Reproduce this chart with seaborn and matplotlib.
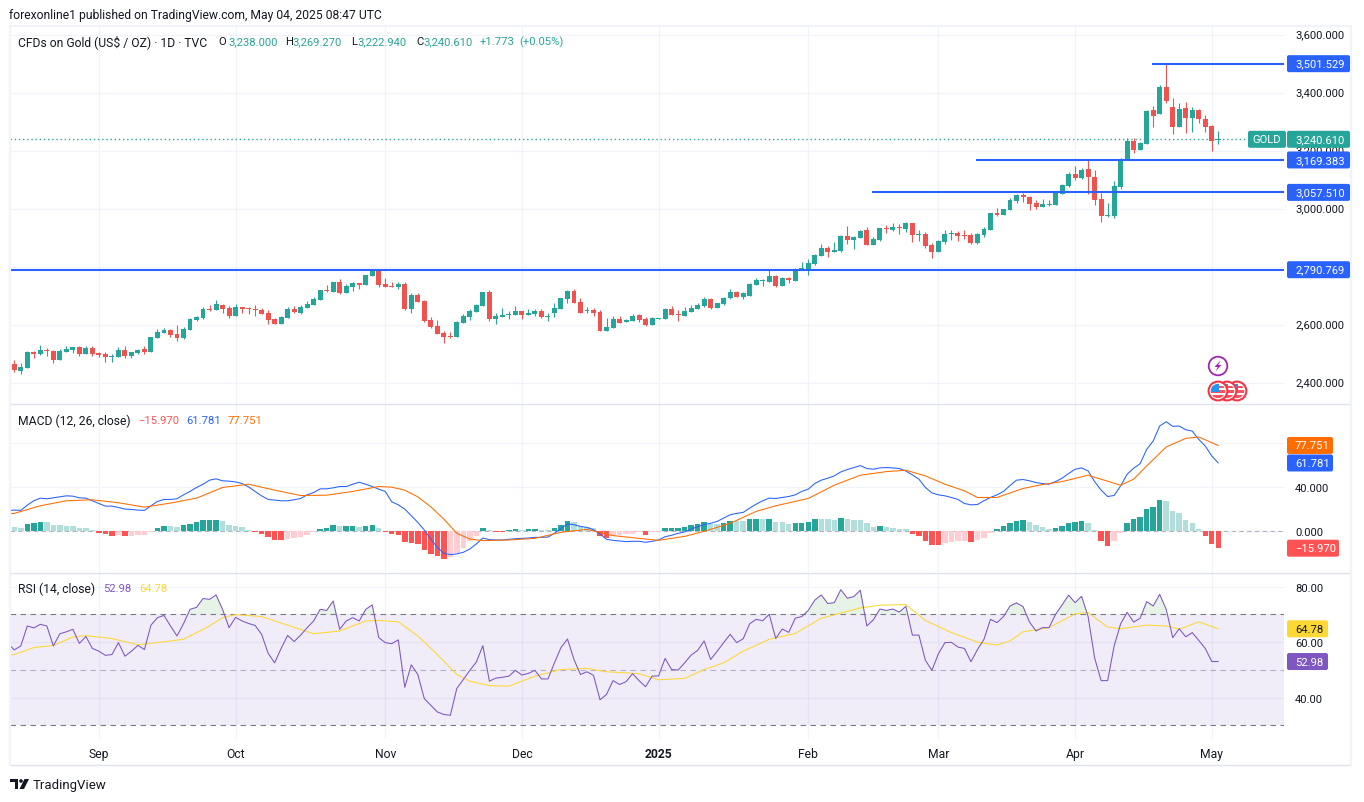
import numpy as np
import pandas as pd
import matplotlib
matplotlib.use("Agg")
import matplotlib.pyplot as plt
from matplotlib.patches import FancyBboxPatch, Circle, Rectangle, Polygon
from matplotlib.transforms import ScaledTranslation
import seaborn as sns

# ---------- data ----------
open_ = [2466,2442,2452,2507,2500,2515,2510,2479,2507,2514,2524,2500,2521,2504,2500,2490,2490,2514,2493,2504,
2517,2507,2555,2573,2583,2569,2555,2583,2617,2624,2655,2652,2669,2659,2631,2662,2660,2655,2652,2641,
2621,2604,2624,2655,2641,2659,2669,2686,2720,2714,2748,2710,2731,2745,2738,2769,2790,2741,2735,2731,
2741,2655,2703,2683,2617,2597,2573,2561,2559,2607,2628,2645,2666,2714,2621,2628,2635,2635,2648,2635,
2638,2648,2629,2642,2655,2690,2717,2679,2650,2652,2645,2580,2590,2621,2610,2614,2635,2621,2600,2622,
2621,2655,2637,2631,2645,2655,2666,2690,2659,2673,2693,2714,2697,2700,2738,2752,2748,2769,2735,2762,
2752,2792,2790,2810,2838,2866,2852,2855,2907,2893,2900,2928,2876,2893,2935,2928,2938,2931,2952,2911,
2914,2876,2852,2886,2914,2917,2911,2911,2883,2911,2928,2986,2980,2997,3028,3047,3042,3021,3007,3014,
3014,3052,3080,3121,3107,3138,3111,3035,2976,2976,3076,3172,3235,3204,3224,3341,3328,3421,3352,3283,
3348,3314,3341,3310,3286,3238]
high = [2479,2469,2510,2510,2531,2522,2514,2517,2528,2524,2528,2528,2528,2507,2507,2500,2524,2528,2507,2517,
2528,2559,2586,2590,2586,2600,2593,2624,2631,2662,2669,2686,2672,2666,2672,2662,2662,2669,2659,2652,
2624,2631,2662,2666,2669,2683,2697,2721,2738,2748,2759,2741,2748,2745,2772,2793,2793,2762,2748,2748,
2748,2710,2710,2686,2628,2617,2580,2576,2614,2638,2655,2673,2714,2721,2642,2659,2648,2666,2648,2655,
2655,2655,2642,2676,2693,2721,2724,2693,2662,2659,2652,2624,2631,2631,2621,2638,2638,2628,2628,2624,
2659,2666,2652,2662,2669,2676,2697,2693,2676,2697,2724,2717,2714,2745,2762,2759,2790,2773,2766,2766,
2797,2817,2828,2845,2879,2872,2886,2910,2941,2907,2928,2938,2904,2935,2945,2952,2948,2955,2952,2928,
2921,2883,2893,2928,2928,2924,2928,2917,2917,2938,2986,3004,3000,3038,3052,3055,3045,3031,3035,3031,
3059,3086,3128,3148,3142,3169,3135,3055,3021,3097,3176,3245,3245,3231,3341,3355,3428,3501.5,3383,3366,
3369,3352,3345,3324,3290,3269.3]
low = [2438,2431,2452,2486,2497,2493,2469,2479,2507,2504,2493,2500,2493,2490,2473,2473,2490,2486,2486,2500,
2500,2507,2555,2573,2559,2545,2552,2583,2614,2621,2648,2652,2641,2624,2631,2641,2638,2631,2638,2604,
2604,2604,2624,2641,2638,2659,2669,2686,2714,2714,2707,2710,2717,2724,2738,2769,2731,2731,2731,2724,
2652,2641,2679,2610,2590,2569,2538,2555,2559,2607,2617,2645,2666,2614,2604,2628,2621,2635,2621,2635,
2631,2624,2614,2628,2655,2676,2676,2642,2642,2631,2580,2580,2590,2607,2610,2614,2610,2597,2600,2622,
2621,2635,2614,2631,2645,2655,2662,2655,2659,2669,2690,2697,2690,2700,2738,2735,2748,2731,2735,2745,
2752,2790,2773,2807,2838,2835,2852,2852,2879,2862,2900,2876,2876,2890,2917,2924,2914,2921,2886,2890,
2866,2831,2852,2880,2893,2890,2897,2880,2880,2904,2928,2976,2980,2997,3021,3024,2997,3000,3007,3011,
3014,3052,3076,3100,3104,3052,3014,2955,2973,2969,3069,3172,3193,3204,3224,3283,3328,3366,3259,3283,
3262,3266,3297,3266,3200,3222.9]
close = [2445,2455,2507,2500,2514,2512,2479,2510,2517,2524,2500,2521,2500,2497,2490,2493,2514,2493,2507,2514,
2507,2559,2576,2583,2566,2555,2586,2621,2628,2655,2652,2672,2655,2631,2662,2655,2656,2653,2638,2617,
2604,2628,2655,2645,2662,2672,2690,2721,2717,2748,2710,2735,2745,2738,2772,2786,2738,2731,2731,2741,
2655,2703,2679,2614,2593,2569,2559,2558,2610,2631,2648,2669,2714,2621,2631,2635,2638,2648,2635,2642,
2648,2628,2632,2659,2693,2717,2676,2642,2653,2642,2580,2593,2621,2607,2617,2631,2617,2600,2624,2624,
2655,2635,2635,2648,2659,2669,2690,2659,2676,2693,2714,2697,2710,2741,2755,2755,2769,2735,2762,2755,
2793,2797,2814,2841,2866,2852,2859,2907,2893,2904,2924,2876,2897,2935,2931,2938,2935,2952,2911,2914,
2873,2852,2890,2914,2917,2907,2907,2883,2914,2931,2986,2980,3000,3031,3049,3043,3017,3007,3017,3017,
3055,3083,3121,3107,3135,3111,3031,2976,2980,3080,3172,3235,3204,3228,3338,3321,3421,3372,3283,3345,
3314,3341,3310,3283,3235,3240.61]

macd_prior = 18.2   # bar just before the visible range, left edge of the pane
macd = [18.8,18.5,23.3,27.3,29.7,29.1,30.0,30.9,31.8,31.5,30.0,29.7,27.3,24.8,22.4,22.4,21.2,19.7,19.4,18.8,
18.5,22.7,26.7,28.5,28.5,29.1,32.7,35.8,39.4,42.4,46.1,47.3,45.5,45.2,44.5,43.0,40.0,35.8,31.8,28.5,
27.9,27.3,27.3,28.2,29.4,32.7,34.8,38.2,38.2,39.1,40.3,40.3,42.4,44.2,42.4,40.3,37.9,35.8,26.4,23.6,
19.7,13.6,7.6,0.6,-7.6,-15.2,-20.6,-21.8,-21.2,-19.7,-16.7,-12.1,-6.7,-8.2,-8.5,-8.5,-7.9,-7.3,-7.0,-6.7,
-6.1,-6.1,-5.8,-2.4,2.1,6.1,5.5,3.9,3.0,0.9,-3.0,-7.9,-8.8,-9.4,-10.0,-9.7,-9.7,-10.6,-9.7,-8.5,
-5.5,-4.2,-2.4,-1.2,1.5,3.6,5.5,6.7,8.5,11.5,14.5,15.8,16.7,20.6,24.2,27.3,29.7,29.4,30.3,31.2,
32.7,35.8,37.9,43.0,46.1,47.9,50.0,53.6,55.8,57.6,59.4,56.7,56.1,57.3,57.6,57.3,56.7,54.5,50.9,47.0,
39.4,34.5,32.7,31.8,30.3,28.5,24.8,23.6,23.9,27.3,30.3,32.7,35.8,41.2,46.1,46.7,45.5,43.9,43.0,42.4,
44.8,47.9,52.1,56.1,57.3,54.5,44.8,37.0,31.2,32.1,40.9,51.5,57.0,61.2,74.2,81.8,95.5,99.4,95.2,95.5,
92.1,90.9,83.3,77.3,68.2,61.781]

signal_idx = [-1,0,4,8,12,16,20,24,28,32,36,40,44,48,52,56,58,60,62,64,66,68,70,72,76,80,84,88,92,96,99,103,106,110,114,117,
122,126,130,134,137,140,143,146,148,151,155,158,161,165,167,170,172,174,177,180,182,185]
signal = [15.2,15.8,22.7,27.3,28.2,25.5,21.5,25.2,29.7,39.4,42.4,37.0,32.1,32.4,35.8,40.3,39.7,37.0,30.9,21.8,10.6,-2.4,-7.6,-9.1,-8.5,-7.0,-1.5,1.2,-4.5,-7.0,-8.8,-5.2,-0.6,6.7,17.6,22.7,
29.4,41.5,50.6,53.9,55.2,50.0,42.4,36.4,30.3,30.3,38.5,42.1,44.8,50.6,47.0,41.5,47.0,59.1,76.4,84.2,85.5,77.751]

hist = [3.3,2.4,6,7.3,7.9,7.8,5.2,4.8,4.2,3.9,2.1,2.0,.6,
-2.1,-3.3,-4.5,-3.6,-4.8,-4.5,-3.9,-3.8,-1.2,
2.4,4.2,4.1,3.3,5.2,6,7.6,9.6,9.7,9.8,8.5,4.8,4.2,3.3,.6,
-1.2,-3,-5.5,-8.1,-8.3,-7.3,-6.7,-5.8,-3.6,-1.2,
1.5,2.7,5.2,4.2,4.3,4.4,3.3,4.2,5.2,2.4,
-1.2,-3,-3.9,-10.3,-11.2,-12.1,-17.3,-21.2,-23,-25.8,-24.2,-20.3,-15.8,-9.1,-4.8,
2.4,.6,-1.2,-1.3,
.4,1.5,.6,1.5,1.6,.6,.5,2.4,5.2,8.8,7.9,4.2,3.3,2.4,
-4.8,-6.7,-4.8,-3.6,-3.1,-3,-1.5,-3.9,-1.2,-1.1,
2.4,2.5,2.6,3.3,5.2,6,7.9,6,5.9,7,8.8,8.7,8.6,10.6,10.7,10.5,11,7.9,7.8,6,7,7.1,7.9,10.8,10.6,10.5,9.7,11.5,10.6,10,9.7,6.7,3.3,4.2,3.3,2.4,1.8,1.5,
-3,-4.8,-9.4,-13,-13.1,-11.2,-10.3,-9.4,-9.3,-10.3,-8.5,-6.7,-2.1,
1.5,4.2,7,8.8,9.7,7.9,5.2,3.3,1.5,2.4,4.2,7,7.9,8.8,7,.2,
-9.4,-13.9,-9.4,-2.1,
7,10.6,12.4,19.7,21.5,27.9,27,17.9,16,9.7,7,1.5,
-4.8,-12.1,-15.97]

rsi_prior = 59.5   # bar just before the visible range, left edge of the pane
rsi = [57.2,58.6,65.8,65.1,66.4,65.8,58.6,63.0,63.7,64.6,59.5,62.0,57.7,56.7,55.2,55.5,59.8,54.9,56.7,58.8,
57.3,66.1,68.8,69.6,65.8,62.2,66.6,71.8,72.5,75.7,75.4,77.0,71.8,65.2,68.9,67.6,66.7,66.0,62.8,56.0,
52.5,57.7,62.4,60.2,62.5,65.2,67.6,71.8,71.4,74.8,64.6,67.6,68.8,67.6,71.8,73.4,61.6,59.8,59.4,60.8,
43.7,51.8,48.3,39.6,37.2,34.8,33.9,33.6,43.3,46.5,49.8,52.8,58.7,45.9,47.0,47.3,47.7,49.8,48.1,48.7,
49.8,46.7,46.7,52.5,58.0,61.1,53.7,48.3,49.3,48.0,39.2,41.1,46.1,44.7,45.7,48.6,46.1,43.9,47.7,47.8,
54.1,50.1,49.9,52.5,55.3,57.0,60.4,53.7,56.7,59.8,62.8,59.8,61.2,66.6,68.2,67.7,70.0,61.3,64.7,63.5,
68.6,69.2,71.4,75.1,77.0,73.9,74.2,78.9,75.8,76.4,78.7,65.8,68.0,71.9,71.4,71.9,70.8,72.9,62.5,62.5,
53.4,49.8,55.8,59.8,59.9,58.2,57.7,52.9,57.3,61.0,68.2,67.0,69.2,73.0,74.1,72.8,67.2,64.0,65.2,65.2,
70.0,73.4,76.9,74.2,76.5,69.2,54.3,46.1,46.1,58.6,66.6,70.7,67.2,68.6,74.6,73.0,77.2,71.8,61.6,64.8,
61.9,63.4,60.6,57.7,53.0,52.98]

rsi_ma_idx = [-1,0,3,6,9,11,15,19,24,26,30,32,34,38,42,46,50,54,56,59,62,65,68,70,73,76,80,84,88,91,96,99,103,106,109,112,116,
120,124,130,133,137,140,144,148,151,153,155,159,163,165,168,170,174,177,179,182,185]
rsi_ma = [55.3,55.5,58.0,58.8,61.8,62.3,61.3,59.0,60.4,61.0,65.8,68.8,69.9,69.2,66.1,63.0,64.0,67.6,67.8,67.3,62.2,55.5,48.3,45.9,44.3,44.1,47.7,50.1,50.5,49.3,48.6,46.4,46.9,50.1,52.5,56.7,61.0,
63.1,68.6,72.3,73.3,73.5,67.8,63.4,60.0,58.9,60.4,63.7,65.2,70.2,70.6,65.4,64.8,66.1,65.8,64.6,67.3,64.78]

month_idx = [13,34,57,78,99,122,142,163,184]
month_labels = ["Sep","Oct","Nov","Dec","2025","Feb","Mar","Apr","May"]
price_ticks = [2400,2600,2800,3000,3200,3400,3600]
macd_ticks = [0,40,80]
rsi_ticks = [40,60,80]
levels = [3501.529,3169.383,3057.510,2790.769]
level_start = [174.8,147.8,131.8,-1]

# ---------- styling ----------
W, H = 1364, 803
sns.set_theme(style="white")
FONT = ["Roboto", "DejaVu Sans"]
plt.rcParams["font.family"] = FONT
plt.rcParams["axes.unicode_minus"] = False
UP, DOWN = "#26A69A", "#EF5350"
GRID = "#F0F3FA"
INK = "#131722"
BLUE, ORANGE, PURPLE, YELLOW = "#2962FF", "#FF6D00", "#7E57C2", "#FDD835"
FS = 8.75   # words
NS = 8.1    # numbers
LW = 0.76

fig = plt.figure(figsize=(W/100, H/100), dpi=100, facecolor="white")
def make_ax(top, bottom):
    return fig.add_axes([10/W, 1-bottom/H, (1284-10)/W, (bottom-top)/H])
ax_p = make_ax(27, 405)
ax_m = make_ax(405, 573)
ax_r = make_ax(574, 740)
XLIM = (-0.66, 195.1)

for ax in (ax_p, ax_m, ax_r):
    ax.set_xlim(*XLIM)
    ax.set_xticks(month_idx)
    ax.grid(True, color=GRID, lw=0.9)
    ax.set_axisbelow(True)
    ax.yaxis.tick_right()
    ax.tick_params(axis="both", length=0, labelsize=NS, labelcolor=INK)
    ax.tick_params(axis="y", pad=8)
    for s in ax.spines.values():
        s.set_visible(False)

# ---------- price pane ----------
df = pd.DataFrame({"i": np.arange(len(close)), "o": open_, "h": high, "l": low, "c": close})
cols = [UP if c >= o else DOWN for o, c in zip(df.o, df.c)]
ax_p.set_ylim(2327.5, 3631.5)
ax_p.vlines(df.i, df.l, df.h, colors=cols, lw=0.8, zorder=3)
body = (df.c - df.o).abs().clip(lower=3)
ax_p.bar(df.i, body, bottom=df[["o", "c"]].min(axis=1), width=0.76, color=cols, lw=0, zorder=4)
ax_p.axhline(close[-1], color=UP, lw=1.0, ls=(0, (1, 2.0)), zorder=2, xmax=(1248-10)/(1284-10))
for val, st in zip(levels, level_start):
    ax_p.hlines(val, st, XLIM[1], color=BLUE, lw=1.5, zorder=5)
ax_p.set_yticks(price_ticks)
ax_p.set_yticklabels([f"{v:,.3f}" for v in price_ticks])
ax_p.tick_params(axis="x", labelbottom=False)
for lab in ax_p.get_yticklabels():
    lab.set_transform(lab.get_transform() + ScaledTranslation(0, 1.5/72*0.72, fig.dpi_scale_trans))

# ---------- MACD pane ----------
ax_m.set_ylim(-37.7, 115.6)
prev = [hist[0] + 1] + hist[:-1]
hcols = []
for h, p in zip(hist, prev):
    if h >= 0:
        hcols.append("#26A69A" if h >= p else "#B2DFDB")
    else:
        hcols.append("#FF5252" if h < p else "#FFCDD2")
ax_m.bar(np.arange(len(hist)), hist, width=0.84, color=hcols, lw=0, zorder=3)
ax_m.axhline(0, color="#B2B5BE", lw=0.8, ls=(0, (4, 3)), zorder=2)
sns.lineplot(x=np.arange(-1, len(macd)), y=[macd_prior] + macd, ax=ax_m, color=BLUE, lw=LW, errorbar=None, zorder=4)
sns.lineplot(x=signal_idx, y=signal, ax=ax_m, color=ORANGE, lw=LW, errorbar=None, zorder=5)
ax_m.set_yticks(macd_ticks)
ax_m.set_yticklabels([f"{v:.3f}" for v in macd_ticks])
ax_m.tick_params(axis="x", labelbottom=False)

# ---------- RSI pane ----------
ax_r.set_ylim(25.05, 84.9)
ax_r.axhspan(30, 70, color=PURPLE, alpha=0.11, lw=0, zorder=1)
r = np.array(rsi)
xr = np.arange(len(r))
ax_r.fill_between(xr, 70, r, where=r > 70, interpolate=True, color="#C8E6C9", alpha=0.45, lw=0, zorder=2)
for lvl, c in ((70, "#787B86"), (30, "#787B86"), (50, "#B4B0C4")):
    ax_r.axhline(lvl, color=c, lw=0.8, ls=(0, (5, 4)), zorder=2)
sns.lineplot(x=np.arange(-1, len(r)), y=[rsi_prior] + rsi, ax=ax_r, color=PURPLE, lw=LW, errorbar=None, zorder=4)
sns.lineplot(x=rsi_ma_idx, y=rsi_ma, ax=ax_r, color=YELLOW, lw=LW, errorbar=None, zorder=3)
ax_r.set_yticks(rsi_ticks)
ax_r.set_yticklabels([f"{v:.2f}" for v in rsi_ticks])
ax_r.set_xticklabels(month_labels, fontsize=FS)
ax_r.tick_params(axis="x", pad=6)
for lab in ax_r.get_xticklabels():
    if lab.get_text() == "2025":
        lab.set_fontweight("bold")
for ax in (ax_p, ax_m, ax_r):
    ax.set_xlabel(""); ax.set_ylabel("")
    ax.set_xlim(*XLIM)

# ---------- overlay in pixel space: frame, legends, price tags, logo ----------
ov = fig.add_axes([0, 0, 1, 1], zorder=20)
ov.set_xlim(0, W); ov.set_ylim(H, 0); ov.axis("off"); ov.patch.set_alpha(0)

FR = "#E0E3EB"
for y, x0, x1, lw in ((27, 10, 1351, 1.4), (405, 10, 1351, 1.0), (573.5, 10, 1351, 1.0), (766, 10, 1351, 1.0)):
    ov.plot([x0, x1], [y, y], color=FR if y != 27 else GRID, lw=lw)
ov.plot([10, 10], [27, 766], color=GRID, lw=1.6)
ov.plot([1351, 1351], [27, 766], color=GRID, lw=1.6)

def t(x, y, s, c=INK, fs=NS, **kw):
    ov.text(x, y, s, color=c, fontsize=fs, va="center", ha="left", **kw)

t(9, 15, "forexonline1 published on TradingView.com, May 04, 2025 08:47 UTC", fs=FS)
t(18, 42, "CFDs on Gold (US$ / OZ) · 1D · TVC", fs=FS)
for x, s, c in ((218, "O", INK), (228, "3,238.000", UP), (285, "H", INK), (292, "3,269.270", UP),
                (351, "L", INK), (357, "3,222.940", UP), (416, "C", INK), (423, "3,240.610", UP),
                (480, "+1.773", UP), (519, "(+0.05%)", UP)):
    t(x, 42, s, c)
t(18, 421, "MACD (12, 26, close)", fs=FS)
t(138, 421, "\u221215.970", "#FF5252")
t(186, 421, "61.781", BLUE)
t(228, 421, "77.751", ORANGE)
t(18, 589, "RSI (14, close)", fs=FS)
t(103, 589, "52.98", PURPLE)
t(139, 589, "64.78", YELLOW)

def tag(ax, val, s, bg, fg="white", x0=1287, w=63, tx=1295):
    y = H - ax.transData.transform((0, val))[1]
    ov.add_patch(FancyBboxPatch((x0, y-8.5), w, 17, boxstyle="round,pad=0,rounding_size=2", fc=bg, ec="none", zorder=5))
    t(tx, y, s, fg, zorder=6)
    return y

for v, s in zip(levels, ("3,501.529", "3,169.383", "3,057.510", "2,790.769")):
    tag(ax_p, v, s, BLUE)
tag(ax_p, close[-1], "3,240.610", UP)
tag(ax_p, close[-1], "GOLD", UP, x0=1248, w=38, tx=1252)
tag(ax_m, signal[-1], "77.751", ORANGE, w=46)
tag(ax_m, macd[-1], "61.781", BLUE, w=46)
tag(ax_m, hist[-1], "\u221215.970", "#FF5252", w=52)
tag(ax_r, rsi_ma[-1], "64.78", YELLOW, fg=INK, w=41)
tag(ax_r, rsi[-1], "52.98", PURPLE, w=41)

# event icons
ov.add_patch(Circle((1218, 367), 9.3, fc="white", ec="#9C27B0", lw=1.3, zorder=6))
ov.add_patch(Polygon([(1220.5, 361.5), (1214.5, 368), (1217.8, 368), (1215.5, 372.5), (1221.5, 366), (1218.2, 366)],
                     closed=True, fc="#9C27B0", ec="none", zorder=7))
for n, cx in enumerate((1237, 1227, 1218)):
    z = 6 + n
    ov.add_patch(Circle((cx, 392), 9.4, fc="white", ec="#F23645", lw=1.5, zorder=z))
    clip = Circle((cx, 392), 7.2, transform=ov.transData)
    for yy, hh in ((386.5, 2.5), (391, 2.5), (395.5, 3.5)):
        b = Rectangle((cx-8, yy), 16, hh, fc="#F7525F", ec="none", zorder=z+0.1)
        ov.add_patch(b); b.set_clip_path(clip)
    can = Rectangle((cx-8, 384), 8.5, 8.5, fc="#2196F3", ec="none", zorder=z+0.2)
    ov.add_patch(can); can.set_clip_path(clip)

# logo
ov.add_patch(Rectangle((10, 780), 8, 3, fc=INK, ec="none"))
ov.add_patch(Rectangle((14.5, 780), 3.5, 10, fc=INK, ec="none"))
ov.add_patch(Circle((21, 782), 1.8, fc=INK, ec="none"))
ov.add_patch(Polygon([(24.5, 780), (29, 780), (24, 790), (19.5, 790)], closed=True, fc=INK, ec="none"))
t(33, 785.5, "TradingView", fs=9.5)

fig.savefig("out.png", dpi=100, facecolor="white")
